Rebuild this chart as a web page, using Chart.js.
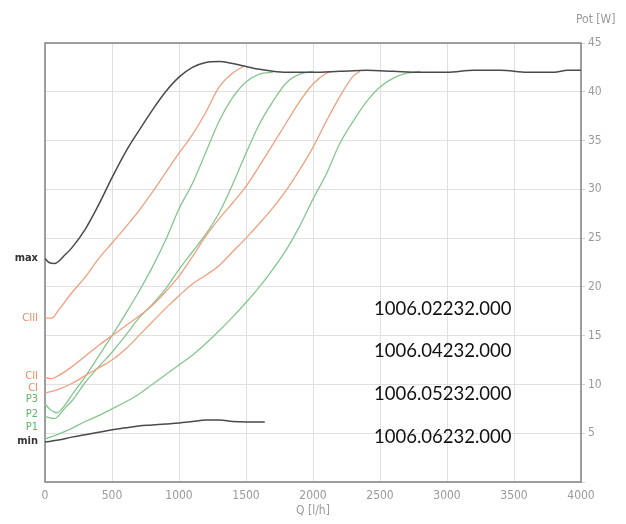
<!DOCTYPE html>
<html><head><meta charset="utf-8">
<script src="https://cdn.jsdelivr.net/npm/chart.js@4.4.1/dist/chart.umd.min.js"></script>
<style>html,body{margin:0;padding:0;background:#fff}#wrap{width:626px;height:524px;position:relative}</style>
</head><body><div id="wrap"><canvas id="c"></canvas></div>
<script>
// ---- data (Q in l/h, Pot in W) ----
const xTicks = [0,500,1000,1500,2000,2500,3000,3500,4000];
const yTicks = [5,10,15,20,25,30,35,40,45];
const seriesNames = ["max","CIII","CII","CI","P3","P2","P1","min"];
const modelCodes = ["1006.02232.000","1006.04232.000","1006.05232.000","1006.06232.000"];

const maxQ   = [0,30,70,150,200,300,400,500,600,700,800,900,1000,1100,1200,1300,1400,1500,1600,1700,1800,1900,2000,2200,2400,2600,2800,3000,3200,3400,3600,3800,3900,4000];
const maxPot = [22.9,22.5,22.4,23.3,24.0,25.9,28.4,31.2,33.8,36.0,38.1,40.0,41.5,42.5,43.0,43.1,42.9,42.6,42.3,42.1,42.0,42.0,42.0,42.1,42.2,42.1,42.0,42.0,42.2,42.2,42.0,42.0,42.2,42.2];

const ciiiQ   = [0,50,100,200,300,400,500,600,700,800,900,1000,1100,1200,1300,1400,1480];
const ciiiPot = [16.8,16.8,17.6,19.4,21.0,22.9,24.5,26.1,27.8,29.7,31.7,33.7,35.6,37.9,40.5,41.9,42.6];

const ciiQ   = [0,50,100,200,300,400,500,600,700,800,900,1000,1100,1200,1300,1400,1500,1600,1700,1800,1900,2000,2100,2140];
const ciiPot = [10.7,10.6,10.9,11.8,12.9,14.0,15.0,16.0,17.0,18.1,19.5,21.1,23.1,25.2,27.0,28.6,30.3,32.4,34.6,36.8,39.0,40.8,41.9,42.1];

const ciQ   = [0,100,200,300,400,500,600,700,800,900,1000,1100,1200,1300,1400,1500,1600,1700,1800,1900,2000,2100,2200,2300,2350];
const ciPot = [9.1,9.5,10.1,10.9,11.7,12.5,13.6,15.0,16.4,17.8,19.1,20.3,21.2,22.2,23.6,25.0,26.5,28.1,29.9,32.0,34.3,37.0,39.5,41.6,42.1];

const p3Q   = [0,40,90,150,200,300,400,500,600,700,800,900,1000,1100,1200,1300,1400,1500,1600,1700];
const p3Pot = [8.0,7.4,7.1,7.9,8.9,10.8,12.9,15.0,17.2,19.5,22.0,24.8,28.0,30.6,33.8,37.0,39.4,41.0,41.8,42.0];

const p2Q   = [0,70,150,200,300,400,500,600,700,800,900,1000,1100,1200,1300,1400,1500,1600,1700,1800,1900,2000];
const p2Pot = [6.7,6.5,7.6,8.3,10.2,11.8,13.3,15.0,16.8,18.2,19.8,21.8,23.6,25.4,27.6,30.5,33.7,36.7,39.0,40.9,41.8,42.1];

const p1Q   = [0,100,200,300,400,500,600,700,800,900,1000,1100,1200,1300,1400,1500,1600,1700,1800,1900,2000,2100,2200,2300,2400,2500,2600,2700,2800];
const p1Pot = [4.4,4.9,5.5,6.2,6.8,7.5,8.2,9.0,10.0,11.0,12.0,13.0,14.2,15.5,16.9,18.4,20.0,21.8,23.8,26.2,29.0,31.6,34.7,37.0,39.0,40.5,41.4,41.9,42.1];

const minQ   = [0,100,200,300,400,500,600,700,800,900,1000,1100,1200,1300,1400,1500,1640];
const minPot = [4.1,4.3,4.6,4.85,5.1,5.35,5.55,5.75,5.85,5.95,6.05,6.2,6.35,6.35,6.2,6.15,6.15];

// ---- styling ----
const DARK = '#4a4a4a', ORANGE = '#f0a07e', GREEN = '#86c68f';
const LBL_DARK = '#333', LBL_ORANGE = '#ef8d62', LBL_GREEN = '#62b562';
const AXIS_FONT = "'DejaVu Sans Condensed', 'DejaVu Sans', sans-serif";

function pts(q, p) { return q.map((v, i) => ({x: v, y: p[i]})); }
const seriesData = [
  [maxQ, maxPot, DARK], [ciiiQ, ciiiPot, ORANGE], [ciiQ, ciiPot, ORANGE], [ciQ, ciPot, ORANGE],
  [p3Q, p3Pot, GREEN], [p2Q, p2Pot, GREEN], [p1Q, p1Pot, GREEN], [minQ, minPot, DARK]
];
const datasets = seriesData.map((s, i) => ({
  label: seriesNames[i], data: pts(s[0], s[1]), borderColor: s[2], borderWidth: (s[2] === DARK ? 1.5 : 1.3),
  pointRadius: 0, fill: false, cubicInterpolationMode: 'monotone'
}));

// label anchor values on the left (in W) and colours
const leftLabelValues = [22.95, 16.75, 10.9, 9.6, 8.5, 7.0, 5.6, 4.15];
const leftLabelColors = [LBL_DARK, LBL_ORANGE, LBL_ORANGE, LBL_ORANGE, LBL_GREEN, LBL_GREEN, LBL_GREEN, LBL_DARK];

const decor = {
  id: 'decor',
  beforeDatasetsDraw(chart) {
    const {ctx, chartArea: a} = chart;
    ctx.save();
    ctx.strokeStyle = '#8a8a8a';
    ctx.lineWidth = 1.6;
    ctx.strokeRect(a.left, a.top, a.right - a.left, a.bottom - a.top);
    ctx.restore();
  },
  afterDraw(chart) {
    const {ctx, chartArea: a, scales} = chart;
    ctx.save();
    ctx.textAlign = 'right';
    ctx.textBaseline = 'middle';
    seriesNames.forEach((n, i) => {
      const dark = (n === 'max' || n === 'min');
      ctx.font = (dark ? 'bold ' : '') + '11px ' + AXIS_FONT;
      ctx.fillStyle = leftLabelColors[i];
      ctx.fillText(n, a.left - 7, scales.y.getPixelForValue(leftLabelValues[i]));
    });
    ctx.font = '12px ' + AXIS_FONT;
    ctx.fillStyle = '#999';
    ctx.textAlign = 'center';
    ctx.fillText('Q [l/h]', (a.left + a.right) / 2, 511);
    ctx.textAlign = 'left';
    ctx.fillText('Pot [W]', 576, 20);
    ctx.font = "18.5px Lato, 'Open Sans', sans-serif";
    ctx.fillStyle = '#111';
    ctx.textAlign = 'left';
    const ys = [309, 351, 394, 437];
    modelCodes.forEach((t, i) => ctx.fillText(t, 374, ys[i]));
    ctx.restore();
  }
};

new Chart(document.getElementById('c'), {
  type: 'line',
  data: { datasets },
  plugins: [decor],
  options: {
    responsive: true, maintainAspectRatio: false, animation: false,
    layout: { padding: { left: 45, top: 43, right: 0, bottom: 0 } },
    plugins: { legend: { display: false }, tooltip: { enabled: false } },
    scales: {
      x: {
        type: 'linear', min: 0, max: 4000,
        afterBuildTicks: s => { s.ticks = xTicks.map(v => ({value: v})); },
        afterFit: s => { s.height = 42; },
        ticks: { color: '#9a9a9a', font: { family: AXIS_FONT, size: 12 }, padding: 7, maxRotation: 0,
                 callback: v => String(v) },
        grid: { color: '#e0e0e0', lineWidth: 1, drawTicks: false },
        border: { display: false }
      },
      y: {
        type: 'linear', position: 'right', min: 0, max: 45,
        afterBuildTicks: s => { s.ticks = [0].concat(yTicks).map(v => ({value: v})); },
        afterFit: s => { s.width = 45; },
        ticks: { color: '#9a9a9a', font: { family: AXIS_FONT, size: 12 }, padding: 3,
                 callback: v => (v === 0 ? '' : String(v)) },
        grid: { color: '#e0e0e0', lineWidth: 1, drawTicks: true, tickLength: 4, tickColor: '#d0d0d0' },
        border: { display: false }
      }
    }
  }
});
</script>
</body></html>
